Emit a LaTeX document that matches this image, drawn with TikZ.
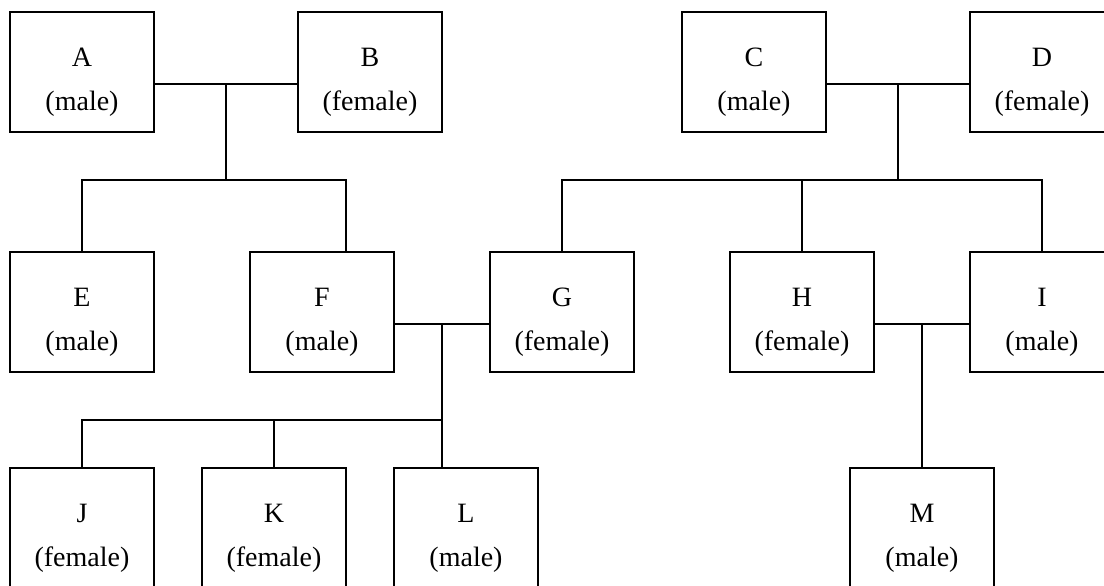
\documentclass[tikz,border=0pt]{standalone}
\usepackage{fontspec}
\setmainfont{Liberation Serif}

\begin{document}
\begin{tikzpicture}[x=0.5pt,y=-0.5pt,line width=1pt,
  person/.style={draw,minimum width=72pt,minimum height=60pt,inner sep=0pt,
    outer sep=0pt,align=center,font=\fontsize{14}{21.7}\selectfont,
    text height=38pt,text depth=0pt}]
\clip (0,0) rectangle (1104,585);
% first generation
\node [person] (A) at (82,72) {A\\(male)};
\node [person] (B) at (370,72) {B\\(female)};
\node [person] (C) at (754,72) {C\\(male)};
\node [person] (D) at (1042,72) {D\\(female)};
% second generation
\node [person] (E) at (82,312) {E\\(male)};
\node [person] (F) at (322,312) {F\\(male)};
\node [person] (G) at (562,312) {G\\(female)};
\node [person] (H) at (802,312) {H\\(female)};
\node [person] (I) at (1042,312) {I\\(male)};
% third generation
\node [person] (J) at (82,528) {J\\(female)};
\node [person] (K) at (274,528) {K\\(female)};
\node [person] (L) at (466,528) {L\\(male)};
\node [person] (M) at (922,528) {M\\(male)};
% couples
\coordinate (AB) at (226,84);
\coordinate (CD) at (898,84);
\coordinate (FG) at (442,324);
\coordinate (HI) at (922,324);
\draw (A.east |- AB)--(B.west |- AB);
\draw (C.east |- CD)--(D.west |- CD);
\draw (F.east |- FG)--(G.west |- FG);
\draw (H.east |- HI)--(I.west |- HI);
% children
\coordinate (ABk) at (226,180);
\coordinate (CDk) at (898,180);
\coordinate (FGk) at (442,420);
\draw (AB)--(ABk);
\draw (E.north) |- (ABk) -| ([xshift=12pt]F.north);
\draw (CD)--(CDk);
\draw (G.north) |- (CDk) -| (I.north);
\draw (H.north)--(H.north |- CDk);
\draw (FG)--(FGk);
\draw (J.north) |- (FGk)--([xshift=-12pt]L.north);
\draw (K.north)--(K.north |- FGk);
\draw (HI)--(M.north);
\end{tikzpicture}
\end{document}
